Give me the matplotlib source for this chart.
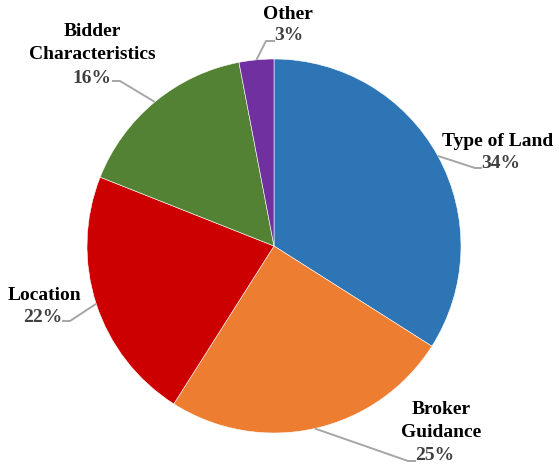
import math

import matplotlib

matplotlib.use("Agg")
import matplotlib.pyplot as plt

categories = ["Type of Land", "Broker\nGuidance", "Location", "Bidder\nCharacteristics", "Other"]
shares = [34, 25, 22, 16, 3]
colors = ["#2E75B6", "#ED7D31", "#CC0000", "#548235", "#7030A0"]

# layout in pixel coords (y down): label center of name, pct, elbow and end of leader line
name_pos = [(498, 141), (441, 421), (44, 296), (92, 43), (288, 14)]
pct_pos = [(501, 163), (435, 455), (43, 318), (92, 78), (289, 35)]
elbow_pos = [(475, 168), (408, 461), (70, 321), (120, 81), (266, 41)]
end_pos = [(482, 168), (416, 461), (62, 321), (112, 81), (275, 41)]

W, H = 559, 469
CX, CY, R = 274, 246, 187

fig = plt.figure(figsize=(W / 100, H / 100), dpi=100)
ax = fig.add_axes([0, 0, 1, 1])

wedges, _ = ax.pie(
    shares,
    colors=colors,
    startangle=90,
    counterclock=False,
    center=(CX, H - CY),
    radius=R,
    wedgeprops=dict(edgecolor="white", linewidth=0.4),
)
ax.set_xlim(0, W)
ax.set_ylim(0, H)
ax.set_aspect("equal")
ax.axis("off")

font = dict(family=["Liberation Serif", "DejaVu Serif"], weight="bold", fontsize=14)

for w, name, npos, ppos, epos, dpos, val in zip(
    wedges, categories, name_pos, pct_pos, elbow_pos, end_pos, shares
):
    mid = math.radians((w.theta1 + w.theta2) / 2)
    sx = CX + R * math.cos(mid)
    sy = (H - CY) + R * math.sin(mid)
    ax.plot(
        [sx, epos[0], dpos[0]],
        [sy, H - epos[1], H - dpos[1]],
        color="#A6A6A6",
        linewidth=1.4,
        solid_capstyle="butt",
    )
    ax.text(npos[0], H - npos[1], name, ha="center", va="center",
            color="black", linespacing=1.45, **font)
    ax.text(ppos[0], H - ppos[1], f"{val}%", ha="center", va="center",
            color="#404040", **font)

fig.savefig("out.png", dpi=100)
